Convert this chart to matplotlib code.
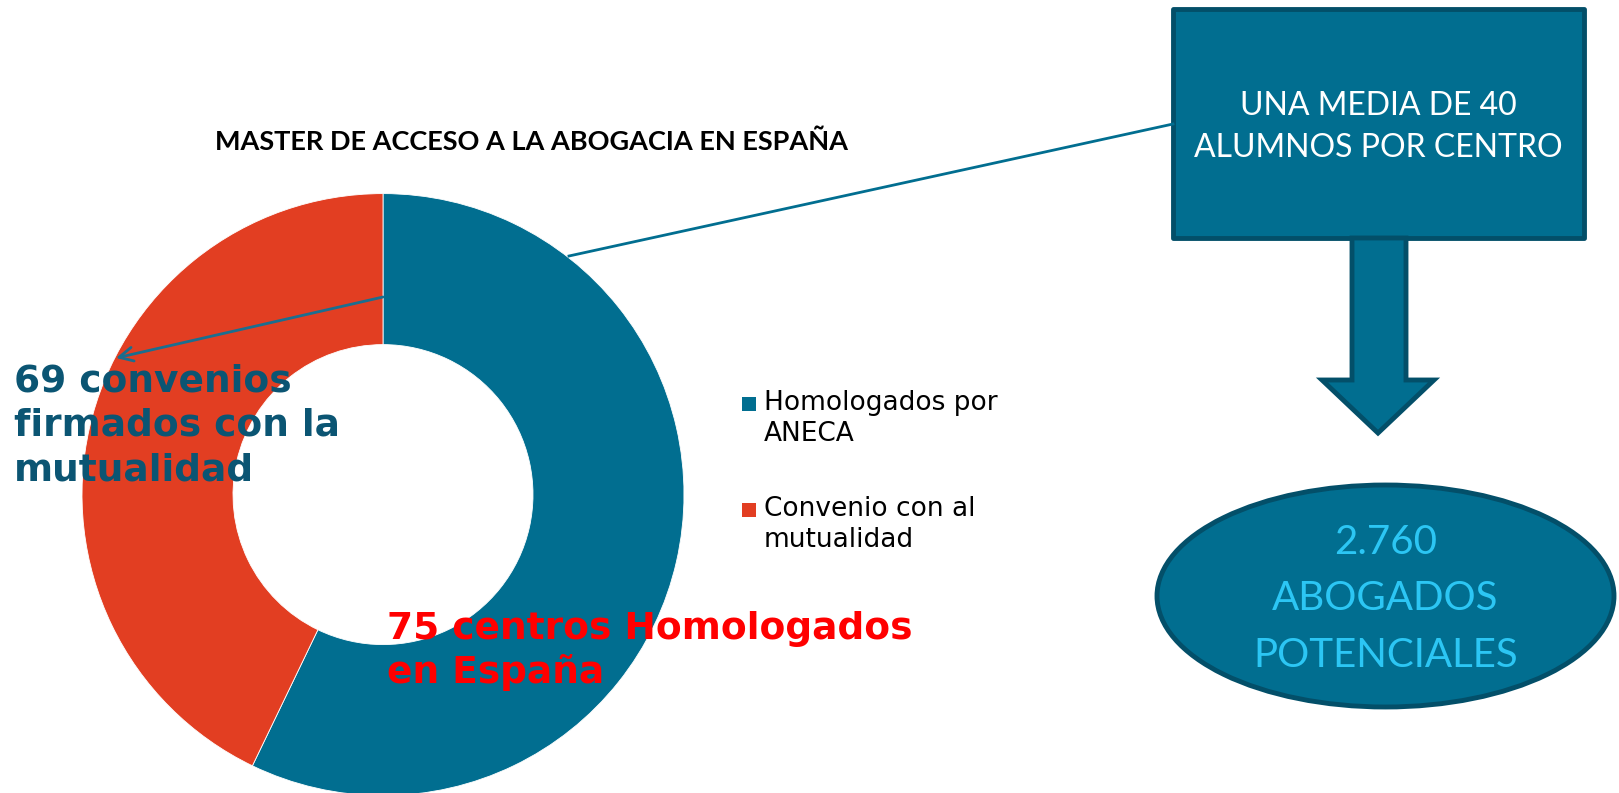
import matplotlib
matplotlib.use("Agg")
import matplotlib.pyplot as plt
from matplotlib.patches import Rectangle, Ellipse, Polygon

# ---- data ----
categories = ["Homologados por\nANECA", "Convenio con al\nmutualidad"]
values = [92, 69]
colors = ["#016E90", "#E23E22"]
title = "MASTER DE ACCESO A LA ABOGACIA EN ESPAÑA"
label_convenios = "69 convenios\nfirmados con la\nmutualidad"
label_centros = "75 centros Homologados\nen España"
box_text = "UNA MEDIA DE 40\nALUMNOS POR CENTRO"
ellipse_text = "2.760\nABOGADOS\nPOTENCIALES"

W, H = 1619, 793
fig = plt.figure(figsize=(W / 100, H / 100), dpi=100)
ax = fig.add_axes([0, 0, 1, 1])

# donut (y axis inverted -> pixel coordinates)
ax.pie(values, colors=colors, center=(383, 494.6), radius=301,
       startangle=-90, counterclock=True,
       wedgeprops=dict(width=151, edgecolor="white", linewidth=0.6))
ax.set_xlim(0, W)
ax.set_ylim(H, 0)
ax.set_aspect("equal")
ax.axis("off")

# title
ax.text(531, 142, title, fontsize=19.5, fontweight="bold", family="Lato",
        ha="center", va="center", color="black")

# legend
leg_y = [404, 510]
for cat, col, y in zip(categories, colors, leg_y):
    ax.add_patch(Rectangle((742, y - 7), 14, 14, facecolor=col, edgecolor="none"))
    ax.text(764, y - 14, cat, fontsize=19, family="DejaVu Sans", ha="left",
            va="top", color="black", linespacing=1.27)

# arrow inside donut toward label
ax.annotate("", xy=(116, 358), xytext=(383, 297),
            arrowprops=dict(arrowstyle="->,head_length=1.0,head_width=0.5",
                            color="#1A6E8F", lw=2, shrinkA=0, shrinkB=0))

ax.text(14, 426, label_convenios, fontsize=27, fontweight="bold",
        family="DejaVu Sans", color="#0B5573", ha="left", va="center",
        linespacing=1.29)
ax.text(387, 651, label_centros, fontsize=27, fontweight="bold",
        family="DejaVu Sans", color="#FF0000", ha="left", va="center",
        linespacing=1.25)

# connector line
ax.plot([569, 1173], [256, 124], color="#016E90", lw=2)

# box
ax.add_patch(Rectangle((1173, 9), 411, 229, facecolor="#016E90",
                       edgecolor="#034F69", lw=3.5, joinstyle="round"))
ax.text(1378, 127, box_text, fontsize=23, family="Lato", color="white",
        ha="center", va="center", linespacing=1.53)

# down arrow
arrow_pts = [(1352, 238), (1406, 238), (1406, 380), (1434, 380),
             (1378, 433), (1322, 380), (1352, 380)]
ax.add_patch(Polygon(arrow_pts, closed=True, facecolor="#016E90",
                     edgecolor="#034F69", lw=3.5, joinstyle="miter"))

# ellipse
ax.add_patch(Ellipse((1385.5, 596), 457, 222, facecolor="#016E90",
                     edgecolor="#034F69", lw=3.5))
ax.text(1385.5, 599, ellipse_text, fontsize=29, family="Lato",
        color="#2CC6F4", ha="center", va="center", linespacing=1.64)

fig.savefig("out.png", dpi=100)
